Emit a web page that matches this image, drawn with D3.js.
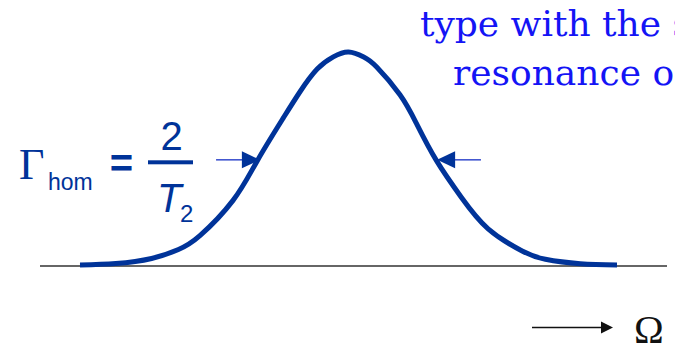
<!DOCTYPE html>
<html>
<head>
<meta charset="utf-8">
<script src="https://cdn.jsdelivr.net/npm/d3@7"></script>
<style>
  html, body { margin: 0; padding: 0; background: #fff; }
  svg { display: block; }
</style>
</head>
<body>
<svg id="chart" width="675" height="350"></svg>
<script>
// Homogeneously broadened line: detuning (in units of 1/T2) vs. normalised intensity
const detuning  = [-3.0, -2.6, -2.2, -1.9, -1.66, -1.29, -1.02, -0.73, -0.54, -0.35, -0.17, 0.0,
                   0.17, 0.315, 0.575, 0.76, 0.985, 1.26, 1.56, 1.94, 2.2, 2.59, 3.0];
const intensity = [0.002, 0.009, 0.033, 0.075, 0.14, 0.305, 0.49, 0.69, 0.815, 0.92, 0.977, 1.0,
                   0.977, 0.93, 0.80, 0.665, 0.49, 0.32, 0.172, 0.068, 0.029, 0.008, 0.002];

// Half-maximum level and the FWHM arrow positions (tip / tail, in detuning units)
const halfLevel = 0.495;
const fwhmTips  = [-0.99, 0.99];
const fwhmTails = [-1.48, 1.48];

const noteLines = ["type with the s", "resonance o"];

const svg = d3.select("#chart");
const lineBlue = "#003399";

const x = d3.scaleLinear().domain([-3, 3]).range([80, 617]);
const y = d3.scaleLinear().domain([0, 1]).range([265.5, 52]);

// baseline
svg.append("line")
  .attr("x1", 40).attr("x2", 667)
  .attr("y1", 266).attr("y2", 266)
  .attr("stroke", "#333").attr("stroke-width", 1.3);

// spectral line
const pts = detuning.map((d, i) => [d, intensity[i]]);
svg.append("path")
  .datum(pts)
  .attr("d", d3.line().x(d => x(d[0])).y(d => y(d[1])).curve(d3.curveNatural))
  .attr("fill", "none")
  .attr("stroke", lineBlue)
  .attr("stroke-width", 5)
  .attr("stroke-linecap", "butt")
  .attr("stroke-linejoin", "round");

// FWHM arrows pointing at the half-maximum crossings
fwhmTips.forEach((tip, i) => {
  const tx = x(tip), sx = x(fwhmTails[i]), yy = y(halfLevel);
  const dir = Math.sign(tx - sx);
  svg.append("line")
    .attr("x1", sx).attr("x2", tx - dir * 16)
    .attr("y1", yy).attr("y2", yy)
    .attr("stroke", "#4458d0").attr("stroke-width", 1.6);
  svg.append("path")
    .attr("d", `M${tx},${yy} L${tx - dir * 18},${yy - 8.5} L${tx - dir * 18},${yy + 8.5} Z`)
    .attr("fill", lineBlue);
});

// Γ_hom = 2 / T2
const lab = svg.append("g").attr("fill", lineBlue);
lab.append("text").attr("x", 19).attr("y", 179)
  .attr("font-family", "'Liberation Serif', 'Times New Roman', serif")
  .attr("font-size", 44).text("Γ");
lab.append("text").attr("x", 48).attr("y", 190)
  .attr("font-family", "'Liberation Sans', Arial, sans-serif")
  .attr("font-size", 23).text("hom");
lab.append("text").attr("x", 121.5).attr("y", 177).attr("text-anchor", "middle")
  .attr("font-family", "'Liberation Sans', Arial, sans-serif")
  .attr("font-weight", "bold").attr("font-size", 40).text("=");
lab.append("text").attr("x", 171.5).attr("y", 150).attr("text-anchor", "middle")
  .attr("font-family", "'Liberation Sans', Arial, sans-serif")
  .attr("font-size", 40).text("2");
lab.append("rect").attr("x", 148).attr("y", 160.3).attr("width", 45).attr("height", 4);
lab.append("text").attr("x", 157).attr("y", 212)
  .attr("font-family", "'Liberation Sans', Arial, sans-serif")
  .attr("font-style", "italic").attr("font-size", 40).text("T");
lab.append("text").attr("x", 180).attr("y", 222)
  .attr("font-family", "'Liberation Sans', Arial, sans-serif")
  .attr("font-size", 24).text("2");

// note text in the upper right
const note = svg.append("g")
  .attr("fill", "#1414f5")
  .attr("font-family", "'DejaVu Serif', serif")
  .attr("font-size", 36);
note.selectAll("text").data(noteLines).join("text")
  .attr("x", (d, i) => i === 0 ? 420 : 453)
  .attr("y", (d, i) => i === 0 ? 36 : 85)
  .text(d => d);

// frequency axis arrow
svg.append("line")
  .attr("x1", 532).attr("x2", 603)
  .attr("y1", 327.5).attr("y2", 327.5)
  .attr("stroke", "#111").attr("stroke-width", 1.6);
svg.append("path")
  .attr("d", "M613,327.5 L601,321.5 L601,333.5 Z")
  .attr("fill", "#111");
svg.append("text").attr("x", 634).attr("y", 343)
  .attr("font-family", "'Liberation Serif', 'Times New Roman', serif")
  .attr("font-size", 40).attr("fill", "#111").text("Ω");
</script>
</body>
</html>
